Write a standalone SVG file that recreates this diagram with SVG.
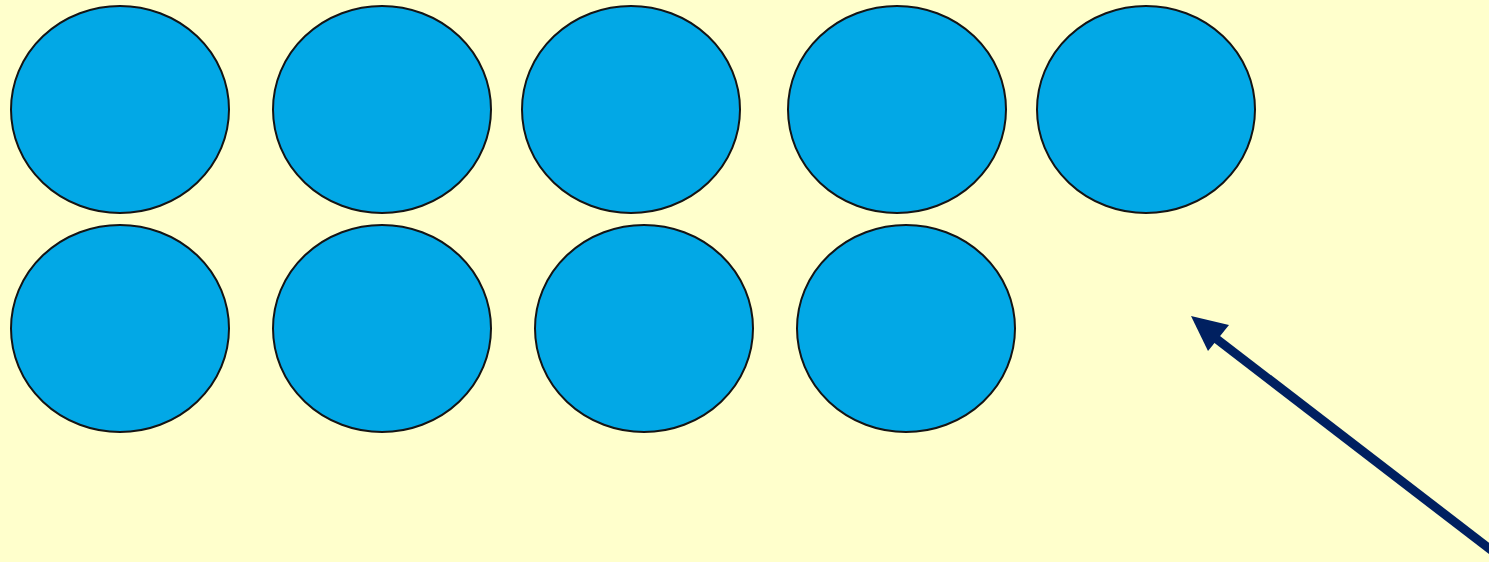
<svg xmlns="http://www.w3.org/2000/svg" width="1489" height="562" viewBox="0 0 1489 562">
<style>
.n{fill:#02A8E6;stroke:#141414;stroke-width:2}
.c{stroke:#002060;stroke-width:9;fill:none}
.h{fill:#002060}
</style>
<rect width="1489" height="562" fill="#FFFFCC"/>
<g id="n1"><ellipse class="n" cx="120" cy="109.5" rx="109" ry="103.5"/></g>
<g id="n2"><ellipse class="n" cx="382" cy="109.5" rx="109" ry="103.5"/></g>
<g id="n3"><ellipse class="n" cx="631" cy="109.5" rx="109" ry="103.5"/></g>
<g id="n4"><ellipse class="n" cx="897" cy="109.5" rx="109" ry="103.5"/></g>
<g id="n5"><ellipse class="n" cx="1146" cy="109.5" rx="109" ry="103.5"/></g>
<g id="n6"><ellipse class="n" cx="120" cy="328.5" rx="109" ry="103.5"/></g>
<g id="n7"><ellipse class="n" cx="382" cy="328.5" rx="109" ry="103.5"/></g>
<g id="n8"><ellipse class="n" cx="644" cy="328.5" rx="109" ry="103.5"/></g>
<g id="n9"><ellipse class="n" cx="906" cy="328.5" rx="109" ry="103.5"/></g>
<g id="connectors">
<line class="c" x1="1495" y1="553" x2="1214" y2="337"/>
<polygon class="h" points="1191,316 1229,325 1208,351"/>
</g>
</svg>
